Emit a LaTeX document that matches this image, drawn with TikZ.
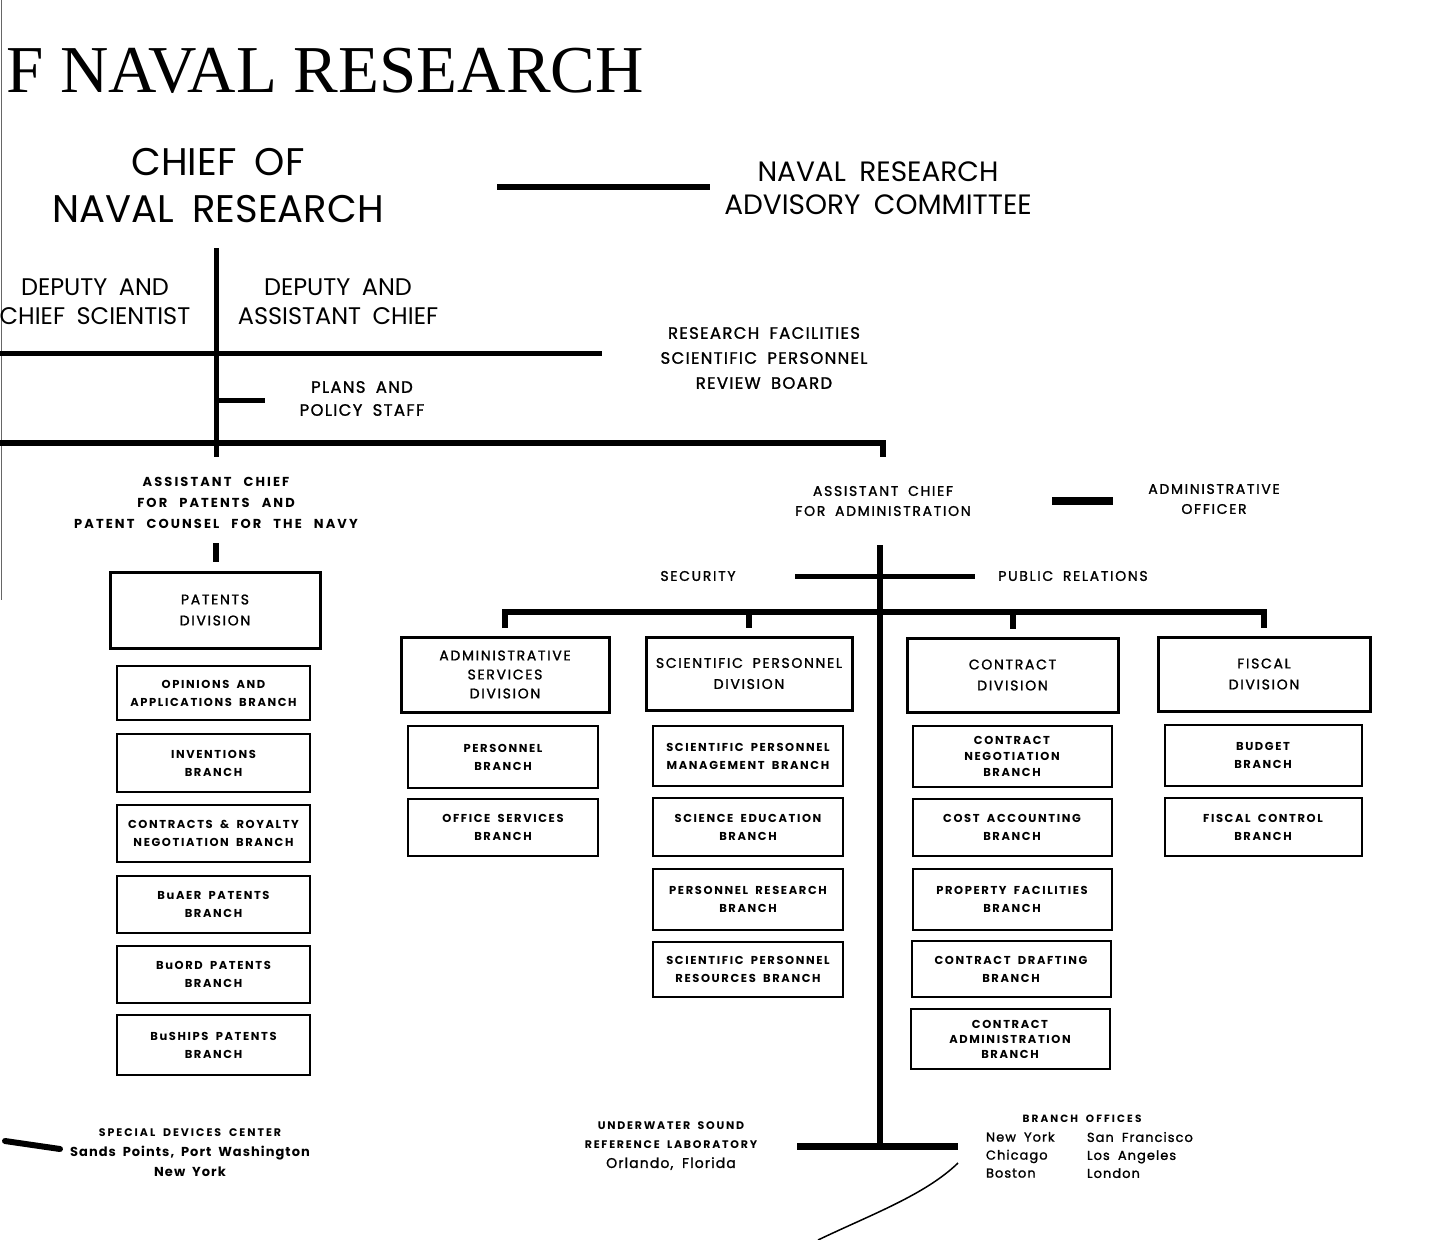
\documentclass[tikz,border=0pt]{standalone}
\usepackage{fontspec}
\usepackage{graphicx}
\setmainfont{Poppins}[WordSpace=1.8]
\newfontfamily\titlef{Liberation Serif}
\newfontfamily\medf{Poppins}[WordSpace=1.8, FakeBold=1.3]
\newfontfamily\acpf{Poppins}[WordSpace=2.5, LetterSpace=16]
\newcommand\LS[1]{\addfontfeatures{LetterSpace=#1}}
\newcommand\fs[2]{\fontsize{#1}{#2}\selectfont}
\tikzset{
  lbl/.style={align=center, inner sep=0pt, outer sep=0pt},
  conn/.style={line width=5pt, line cap=butt, line join=miter},
  divbox/.style={draw, line width=3pt, align=center, inner sep=0pt, outer sep=0pt,
    font=\medf\LS{12}\fs{14}{21}},
  brbox/.style={draw, line width=2pt, align=center, inner sep=0pt, outer sep=0pt,
    font=\bfseries\LS{14}\fs{11.5}{18}},
  medtxt/.style={lbl, font=\medf\LS{12}\fs{14}{20}},
}
\begin{document}
\begin{tikzpicture}[x=1pt,y=-1pt]
\useasboundingbox[fill=white] (0,0) rectangle (1449,1240);
% page edge
\draw[line width=1.5pt, black!60] (1.5,0) -- (1.5,600);
% title
\node[lbl, anchor=base west, font=\titlef\fs{67}{67}] (title) at (6,92) {F NAVAL RESEARCH};
% top level
\node[lbl, font=\fs{38.5}{47}, minimum width=558] (chief) at (218,185.5) {CHIEF OF\\NAVAL RESEARCH};
\node[lbl, font=\fs{28}{33}, minimum width=336] (nrac) at (878,188.5) {NAVAL RESEARCH\\ADVISORY COMMITTEE};
\coordinate (cl) at (0,187);
\draw[conn, line width=6pt] (chief.east |- cl) -- (nrac.west |- cl);
\node[lbl, font=\fs{24}{29}] (dcs) at (95,301.5) {DEPUTY AND\\CHIEF SCIENTIST};
\node[lbl, font=\fs{24}{29}] (dac) at (338,301.5) {DEPUTY AND\\ASSISTANT CHIEF};
\node[lbl, font=\medf\LS{8}\fs{16.5}{25}, minimum width=324] (rfb) at (764,358) {RESEARCH FACILITIES\\SCIENTIFIC PERSONNEL\\REVIEW BOARD};
\node[lbl, font=\medf\LS{8}\fs{16.5}{23}, minimum width=194] (pps) at (362,398.5) {PLANS AND\\POLICY STAFF};
\coordinate (t0) at (216,248);
\coordinate (t1) at (216,400);
\coordinate (t2) at (216,457);
\coordinate (h1) at (0,353);
\coordinate (h2) at (0,443);
\draw[conn] (t0) -- (t2);
\draw[conn] (h1) -- (rfb.west |- h1);
\draw[conn] (t1) -- (pps.west |- t1);
% assistant chiefs
\node[lbl, font=\acpf\bfseries\fs{13}{21}] (acp) at (216,503) {ASSISTANT CHIEF\\FOR PATENTS AND\\PATENT COUNSEL FOR THE NAVY};
\node[medtxt, minimum width=338, minimum height=88] (aca) at (883,501) {ASSISTANT CHIEF\\FOR ADMINISTRATION};
\draw[conn, line width=6pt] (h2) -| (aca.north);
\node[medtxt, minimum width=202] (ao) at (1214,499) {ADMINISTRATIVE\\OFFICER};
\coordinate (al) at (0,501);
\draw[conn, line width=8pt] (aca.east |- al) -- (ao.west |- al);
\coordinate (ps1) at (216,543);
\coordinate (ps2) at (216,562);
\draw[conn, line width=6pt] (ps1) -- (ps2);
\node[medtxt, minimum width=194] (sec) at (698,576) {SECURITY};
\node[medtxt, minimum width=196] (pr) at (1073,576) {PUBLIC RELATIONS};
% patents column
\node[divbox, minimum width=210, minimum height=76] (pd) at (215,610) {PATENTS\\DIVISION};
\node[brbox, minimum width=193, minimum height=54] (p1) at (213.5,693) {OPINIONS AND\\APPLICATIONS BRANCH};
\node[brbox, minimum width=193, minimum height=58] (p2) at (213.5,763) {INVENTIONS\\BRANCH};
\node[brbox, minimum width=193, minimum height=57] (p3) at (213.5,833.5) {CONTRACTS \& ROYALTY\\NEGOTIATION BRANCH};
\node[brbox, minimum width=193, minimum height=57] (p4) at (213.5,904.5) {BuAER PATENTS\\BRANCH};
\node[brbox, minimum width=193, minimum height=57] (p5) at (213.5,974.5) {BuORD PATENTS\\BRANCH};
\node[brbox, minimum width=193, minimum height=60] (p6) at (213.5,1045) {BuSHIPS PATENTS\\BRANCH};
% divisions
\node[divbox, minimum width=208, minimum height=75, font=\medf\LS{12}\fs{14}{19}] (asd) at (505,674.5) {ADMINISTRATIVE\\SERVICES\\DIVISION};
\node[divbox, minimum width=206, minimum height=73] (spd) at (749,673.5) {SCIENTIFIC PERSONNEL\\DIVISION};
\node[divbox, minimum width=211, minimum height=74] (cd) at (1012.5,675) {CONTRACT\\DIVISION};
\node[divbox, minimum width=212, minimum height=74] (fd) at (1264,674) {FISCAL\\DIVISION};
\coordinate (bar) at (880,612);
\coordinate (bot) at (880,1146);
\coordinate (bl) at (797,1146);
\coordinate (br) at (958,1146);
\draw[conn, line width=6pt] (bot |- aca.south) -- (bot);
\draw[conn, line width=7pt] (bl) -- (br);
\draw[conn] (sec.east) -- (pr.west);
\draw[conn, line width=6pt] ([yshift=9pt]asd.north) -- (asd.north |- bar) -- (fd.north |- bar) -- ([yshift=9pt]fd.north);
\draw[conn, line width=6pt] (spd.north |- bar) -- ([yshift=9pt]spd.north);
\draw[conn, line width=6pt] (cd.north |- bar) -- ([yshift=9pt]cd.north);
% admin services branches
\node[brbox, minimum width=190, minimum height=62] (a1) at (503,757) {PERSONNEL\\BRANCH};
\node[brbox, minimum width=190, minimum height=57] (a2) at (503,827.5) {OFFICE SERVICES\\BRANCH};
% scientific personnel branches
\node[brbox, minimum width=190, minimum height=60] (s1) at (748,756) {SCIENTIFIC PERSONNEL\\MANAGEMENT BRANCH};
\node[brbox, minimum width=190, minimum height=58] (s2) at (748,827) {SCIENCE EDUCATION\\BRANCH};
\node[brbox, minimum width=190, minimum height=61] (s3) at (748,899.5) {PERSONNEL RESEARCH\\BRANCH};
\node[brbox, minimum width=190, minimum height=55] (s4) at (748,969.5) {SCIENTIFIC PERSONNEL\\RESOURCES BRANCH};
% contract branches
\node[brbox, minimum width=199, minimum height=61, font=\bfseries\LS{14}\fs{11.5}{16}] (c1) at (1012,756.5) {CONTRACT\\NEGOTIATION\\BRANCH};
\node[brbox, minimum width=199, minimum height=57] (c2) at (1012,827.5) {COST ACCOUNTING\\BRANCH};
\node[brbox, minimum width=199, minimum height=61] (c3) at (1012,899.5) {PROPERTY FACILITIES\\BRANCH};
\node[brbox, minimum width=199, minimum height=56] (c4) at (1011,969) {CONTRACT DRAFTING\\BRANCH};
\node[brbox, minimum width=199, minimum height=60, font=\bfseries\LS{14}\fs{11.5}{15}] (c5) at (1010,1039) {CONTRACT\\ADMINISTRATION\\BRANCH};
% fiscal branches
\node[brbox, minimum width=197, minimum height=61] (f1) at (1263,755.5) {BUDGET\\BRANCH};
\node[brbox, minimum width=197, minimum height=58] (f2) at (1263,827) {FISCAL CONTROL\\BRANCH};
% bottom field activities
\node[lbl, font=\bfseries\LS{18}\fs{11}{20}] (sdc) at (190,1153) {SPECIAL DEVICES CENTER\\{\LS{8}\fs{13}{20}Sands Points, Port Washington}\\{\LS{8}\fs{13}{20}New York}};
\coordinate (sdl) at (5,1141);
\coordinate (sdr) at (60,1149);
\draw[line width=6pt, line cap=round] (sdl) -- (sdr);
\node[lbl, font=\bfseries\LS{16}\fs{11}{19}] (usrl) at (671,1146) {UNDERWATER SOUND\\REFERENCE LABORATORY\\{\medf\mdseries\LS{8}\fs{14}{22}Orlando, Florida}};
\node[lbl, font=\bfseries\LS{20}\fs{10.5}{12}] (bo) at (1082,1119) {BRANCH OFFICES};
\node[lbl, align=left, anchor=north west, font=\medf\LS{8}\fs{13}{18}] (bo1) at (986,1132) {New York\\Chicago\\Boston};
\node[lbl, align=left, anchor=north west, font=\medf\LS{8}\fs{13}{18}] (bo2) at (1087,1132) {San Francisco\\Los Angeles\\London};
% scan curve
\coordinate (cv1) at (818,1240);
\coordinate (cv2) at (958,1163);
\draw[line width=1.5pt] (cv1) .. controls (870,1215) and (925,1195) .. (cv2);
\end{tikzpicture}
\end{document}
